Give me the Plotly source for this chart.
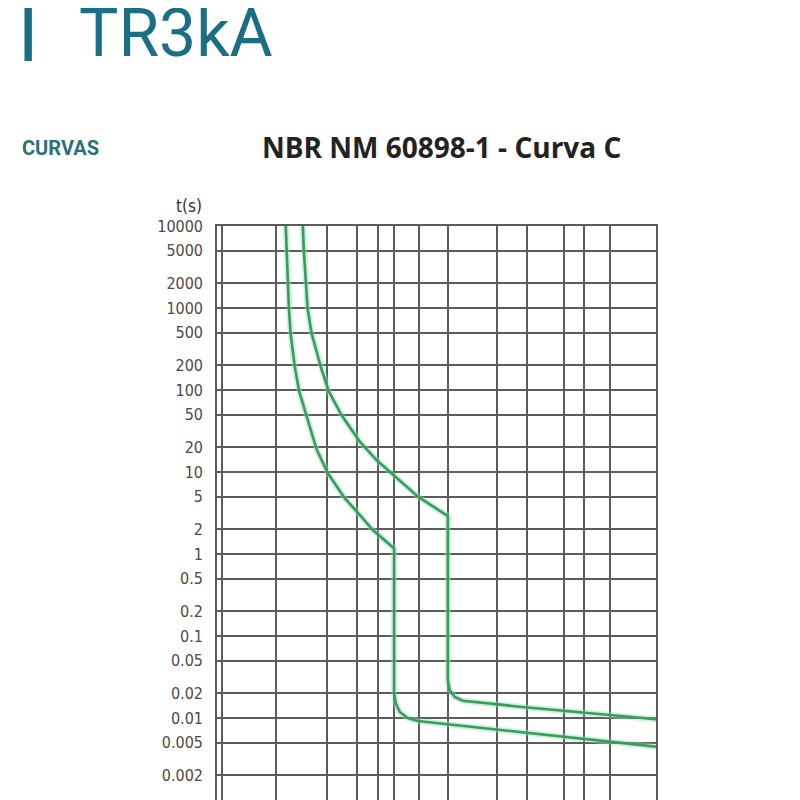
import plotly.graph_objects as go
import numpy as np

# Curva C - tripping curves (multiples of In vs time in s)
lower_x = [1.14, 1.152, 1.189, 1.216, 1.289, 1.366, 1.51, 1.60, 1.728, 2.01, 2.53, 3.10, 3.70,
           4.93, 4.93, 5.04, 5.32, 5.93, 6.79, 26.9, 170.4]
lower_t = [10000, 5093, 1000, 495, 190, 97, 48, 32.5, 19, 9.7, 4.8, 3.0, 1.96,
           1.17, 0.0202, 0.01524, 0.01183, 0.0100, 0.00919, 0.00675, 0.00447]

upper_x = [1.436, 1.455, 1.530, 1.615, 1.831, 2.04, 2.422, 3.10, 3.886, 4.976, 6.815,
           10.2, 10.2, 10.45, 11.19, 12.46, 26.9, 170.4]
upper_t = [10000, 5093, 1000, 495, 190, 95.9, 49.5, 23.5, 14.0, 8.93, 5.0,
           2.90, 0.029, 0.0219, 0.01803, 0.01626, 0.01374, 0.00964]

# grid
x_grid = [0.48, 1, 2, 3, 3.95, 4.92, 6.9, 10.2, 19.7, 29.6, 48.7, 64, 91]
y_ticks = [10000, 5000, 2000, 1000, 500, 200, 100, 50, 20, 10, 5, 2, 1,
           0.5, 0.2, 0.1, 0.05, 0.02, 0.01, 0.005, 0.002, 0.001]
y_labels = ['10000', '5000', '2000', '1000', '500', '200', '100', '50', '20', '10', '5', '2', '1',
            '0.5', '0.2', '0.1', '0.05', '0.02', '0.01', '0.005', '0.002', '0.001']

green = '#3b9a5f'
glow = 'rgba(140,225,165,0.45)'
grid_col = '#5c5c5c'
teal = '#1b6f85'
narrow = 'DejaVu Sans Condensed, sans-serif'

fig = go.Figure()

for xs, ts in [(lower_x, lower_t), (upper_x, upper_t)]:
    # soft halo under the line
    fig.add_trace(go.Scatter(x=xs, y=ts, mode='lines', line=dict(color=glow, width=6),
                             hoverinfo='skip', showlegend=False))
    fig.add_trace(go.Scatter(x=xs, y=ts, mode='lines', line=dict(color=green, width=2.6),
                             showlegend=False))

fig.update_layout(
    width=800, height=800,
    margin=dict(l=209, r=152, t=218, b=8),
    paper_bgcolor='white',
    plot_bgcolor='white',
    font=dict(family=narrow, color='#444444'),
)

fig.update_xaxes(
    type='log',
    range=[np.log10(0.45), np.log10(170)],
    tickvals=x_grid,
    showticklabels=False,
    showgrid=True, gridcolor=grid_col, gridwidth=1.6,
    showline=True, linecolor=grid_col, linewidth=1.6, mirror=True,
    zeroline=False,
)

fig.update_yaxes(
    type='log',
    range=[-3, 4],
    tickvals=y_ticks,
    ticktext=y_labels,
    tickfont=dict(family=narrow, size=16, color='#4a4a4a'),
    ticklabelstandoff=9,
    showgrid=True, gridcolor=grid_col, gridwidth=1.6,
    showline=True, linecolor=grid_col, linewidth=1.6, mirror=True,
    zeroline=False,
)


# helpers: page pixel -> paper coords of the plot area (217..656, 226..800)
def px(sx):
    return (sx - 217) / 439


def py(sy):
    return (800 - sy) / 574


# header texts
fig.add_annotation(xref='paper', yref='paper', x=px(15), y=py(18),
                   xanchor='left', yanchor='middle', showarrow=False,
                   text='<b>|</b>', font=dict(family='Roboto, sans-serif', size=88, color=teal))
fig.add_annotation(xref='paper', yref='paper', x=px(77), y=py(33),
                   xanchor='left', yanchor='middle', showarrow=False,
                   text='TR3kA', font=dict(family='Roboto, sans-serif', size=66, color=teal))
fig.add_annotation(xref='paper', yref='paper', x=px(20), y=py(148),
                   xanchor='left', yanchor='middle', showarrow=False,
                   text='<b>CURVAS</b>',
                   font=dict(family='Roboto, sans-serif', size=20, color='#2b6f7c'))
fig.add_annotation(xref='paper', yref='paper', x=px(441), y=py(147),
                   xanchor='center', yanchor='middle', showarrow=False,
                   text='<b>NBR NM 60898-1 - Curva C</b>',
                   font=dict(family='Open Sans, sans-serif', size=28, color='#222222'))
fig.add_annotation(xref='paper', yref='paper', x=px(204), y=py(206),
                   xanchor='right', yanchor='middle', showarrow=False,
                   text='t(s)', font=dict(family=narrow, size=17, color='#333333'))

fig.write_html("out.html")
